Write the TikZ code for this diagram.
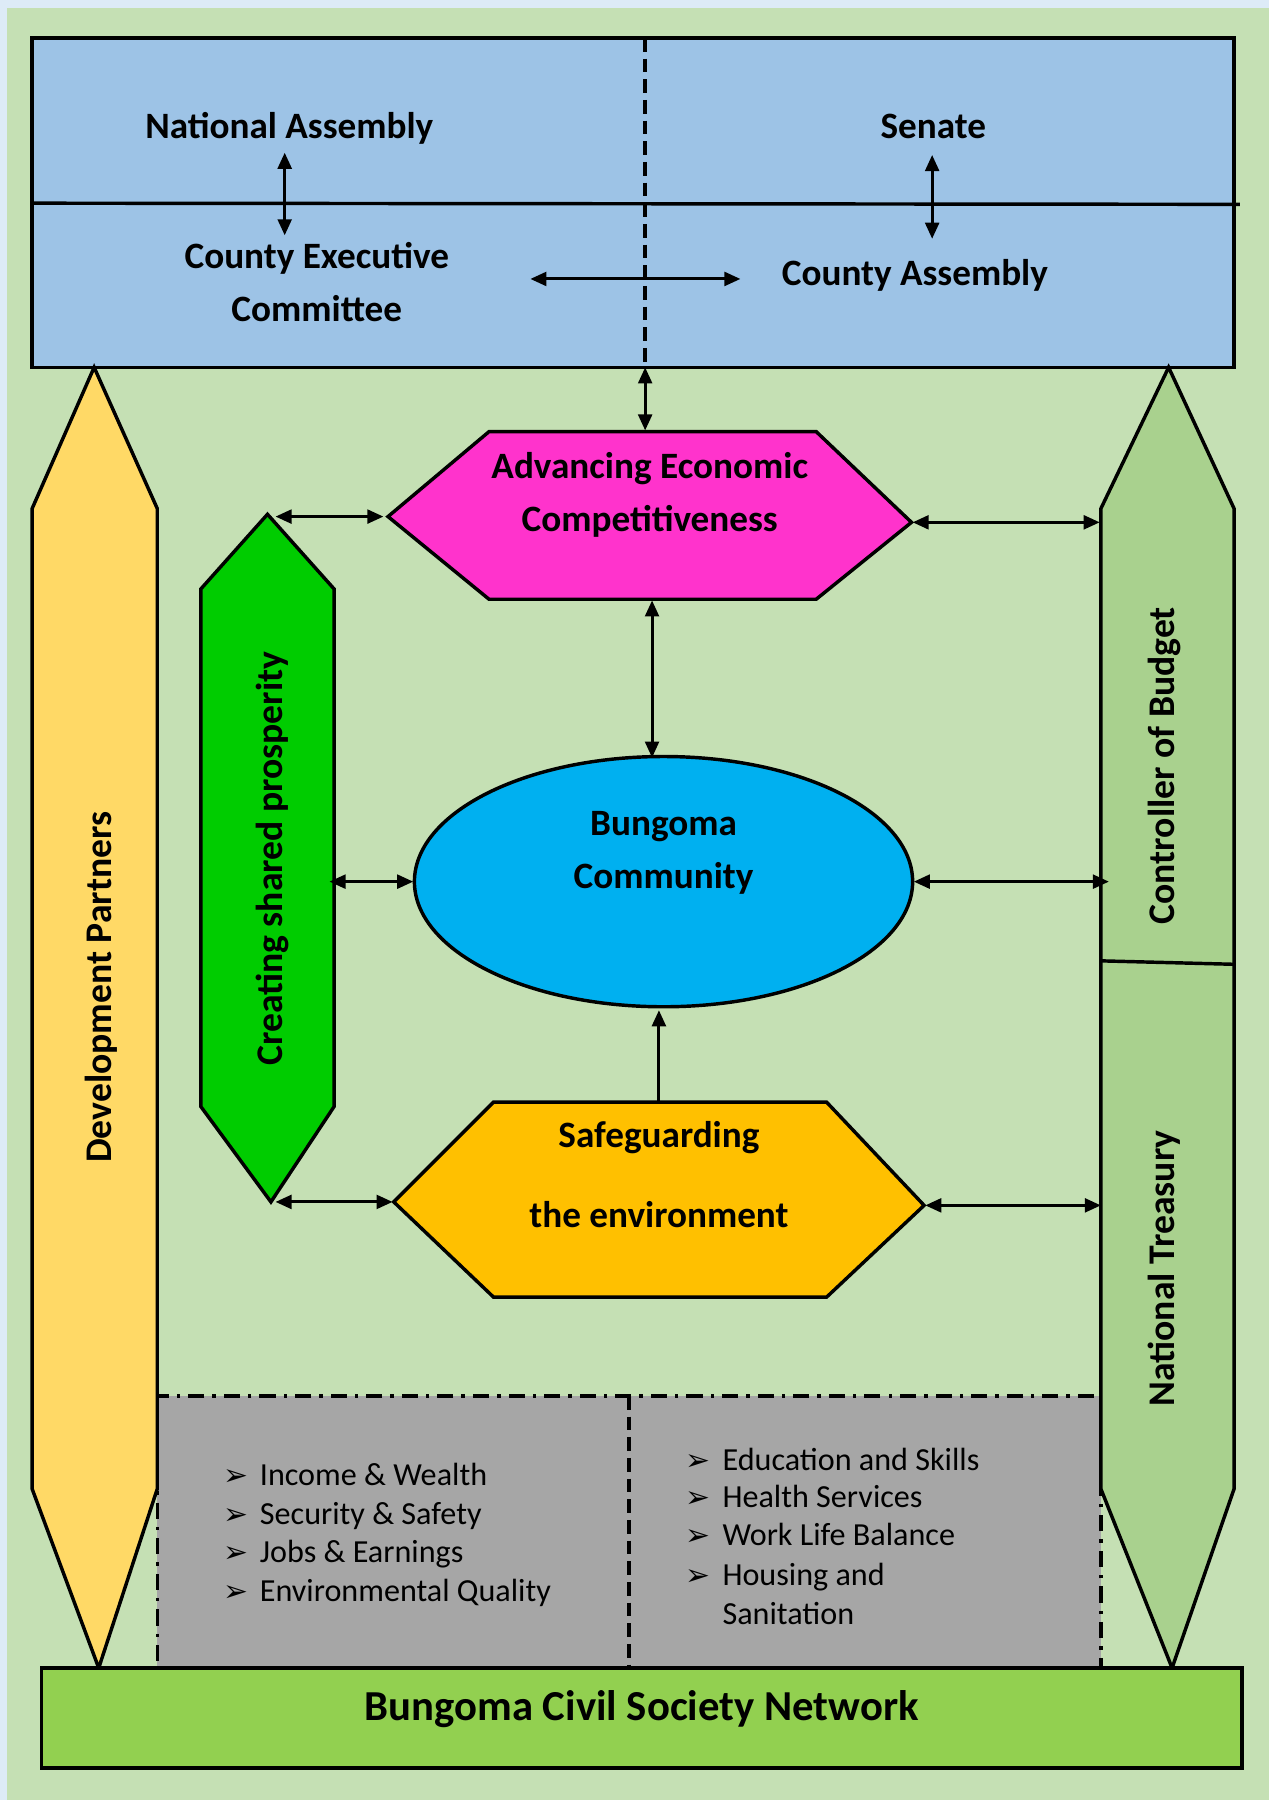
\documentclass[tikz,border=0pt]{standalone}
\usepackage{fontspec}
\setmainfont{Carlito}
\newfontfamily\dejavu{DejaVu Sans}
\usetikzlibrary{arrows.meta}
\definecolor{pageblue}{HTML}{DDEBF7}
\definecolor{bggreen}{HTML}{C5E0B4}
\definecolor{topblue}{HTML}{9DC3E6}
\definecolor{boxgray}{HTML}{A6A6A6}
\definecolor{devyellow}{HTML}{FFD966}
\definecolor{bargreen}{HTML}{A9D18E}
\definecolor{pencilgreen}{HTML}{00CC00}
\definecolor{hexmagenta}{HTML}{FF33CC}
\definecolor{ellcyan}{HTML}{00B0F0}
\definecolor{hexorange}{HTML}{FFC000}
\definecolor{civgreen}{HTML}{92D050}
\newcommand\bul{\makebox[16pt][l]{\dejavu\fontsize{13}{13}\selectfont ➢}}
\begin{document}
\begin{tikzpicture}[x=0.5pt,y=-0.5pt,
  shp/.style={draw=black,line width=1.5pt,line join=miter},
  conn/.style={line width=1.3pt,{Triangle[length=7pt,width=6pt]}-{Triangle[length=7pt,width=6pt]}},
  conntip/.style={line width=1.3pt,-{Triangle[length=7pt,width=6pt]}},
  lbl/.style={font=\fontsize{16.2}{23}\selectfont\bfseries, anchor=base, inner sep=0pt},
  vlbl/.style={font=\fontsize{16.4}{23}\selectfont\bfseries, anchor=base, inner sep=0pt, rotate=90},
  item/.style={font=\fontsize{14}{17}\selectfont, anchor=base west, inner sep=0pt},
]
\useasboundingbox (0,0) rectangle (1105,1568);
\fill[pageblue] (0,0) rectangle (1105,1568);
\fill[bggreen] (6,7) rectangle (1105,1568);

% top governance box
\filldraw[shp, fill=topblue] (28,33) rectangle (1075,320);
\draw[line width=1.5pt] (28,177) -- (1080,178);
\draw[line width=1.5pt, dash pattern=on 6pt off 3pt] (562,33) -- (562,320);

% gray well-being box
\filldraw[fill=boxgray, draw=black, line width=1.5pt, dash pattern=on 7pt off 3.5pt on 1.5pt off 3.5pt] (137,1216) rectangle (959,1453);
\draw[line width=1.5pt, dash pattern=on 6pt off 3pt] (548,1216) -- (548,1453);

% development partners bar
\filldraw[shp, fill=devyellow] (82,320) -- (137,443) -- (137,1297) -- (86,1453) -- (28,1297) -- (28,443) -- cycle;

% controller / treasury bar
\filldraw[shp, fill=bargreen] (1018,320) -- (1075,443) -- (1075,1297) -- (1021,1453) -- (959,1297) -- (959,443) -- cycle;
\draw[shp] (959,837) -- (1075,840);

% creating shared prosperity
\filldraw[shp, fill=pencilgreen] (233,448) -- (291,513) -- (291,964) -- (236,1047) -- (175,964) -- (175,513) -- cycle;

% advancing economic competitiveness
\filldraw[shp, fill=hexmagenta] (338,450) -- (426,376) -- (711,376) -- (794,455) -- (711,522) -- (426,522) -- cycle;

% community
\filldraw[shp, fill=ellcyan] (578,768) ellipse [x radius=217, y radius=109];

% safeguarding
\filldraw[shp, fill=hexorange] (343,1047) -- (430,960) -- (720,960) -- (805,1050) -- (720,1130) -- (430,1130) -- cycle;

% civil society bar
\filldraw[shp, fill=civgreen] (36,1453) rectangle (1082,1540);

% connector end points
\coordinate (naS) at (248,133);  \coordinate (cecN) at (248,205);
\coordinate (seS) at (812,135);  \coordinate (caN) at (812,208);
\coordinate (cecE) at (462,243); \coordinate (caW) at (645,243);
\coordinate (topS) at (562,320); \coordinate (aecN) at (562,375);
\coordinate (cspT) at (240,450); \coordinate (aecW) at (334,450);
\coordinate (aecE) at (795,455); \coordinate (cobA) at (958,455);
\coordinate (aecS) at (568,523); \coordinate (comN) at (568,660);
\coordinate (cspE) at (287,768); \coordinate (comW) at (360,768);
\coordinate (comE) at (796,768); \coordinate (cobB) at (966,768);
\coordinate (sgN) at (574,960);  \coordinate (comS) at (574,880);
\coordinate (cspB) at (240,1047); \coordinate (sgW) at (342,1047);
\coordinate (sgE) at (806,1050); \coordinate (ntA) at (959,1050);

\draw[conn] (naS) -- (cecN);
\draw[conn] (seS) -- (caN);
\draw[conn] (cecE) -- (caW);
\draw[conn] (topS) -- (aecN);
\draw[conn] (cspT) -- (aecW);
\draw[conn] (aecE) -- (cobA);
\draw[conn] (aecS) -- (comN);
\draw[conn] (cspE) -- (comW);
\draw[conn] (comE) -- (cobB);
\draw[conntip] (sgN) -- (comS);
\draw[conn] (cspB) -- (sgW);
\draw[conn] (sgE) -- (ntA);

% labels
\node[lbl] (na) at (252,121) {National Assembly};
\node[lbl] (se) at (813,121) {Senate};
\node[lbl] (cec1) at (276,234) {County Executive};
\node[lbl] (cec2) at (276,280) {Committee};
\node[lbl] (ca) at (797,249) {County Assembly};
\node[lbl] (aec1) at (566,417) {Advancing Economic};
\node[lbl] (aec2) at (566,463) {Competitiveness};
\node[lbl] (com1) at (578,728) {Bungoma};
\node[lbl] (com2) at (578,774) {Community};
\node[lbl] (sg1) at (574,1000) {Safeguarding};
\node[lbl] (sg2) at (574,1069) {the environment};
\node[lbl, font=\fontsize{18.6}{23}\selectfont\bfseries] (bcsn) at (559,1499) {Bungoma Civil Society Network};
\node[vlbl] (dp) at (97,860) {Development Partners};
\node[vlbl] (csp) at (246,748) {Creating shared prosperity};
\node[vlbl] (cob) at (1023,667) {Controller of Budget};
\node[vlbl] (nt) at (1023,1105) {National Treasury};

% lists
\node[item] (l1) at (194,1294) {\bul Income \& Wealth};
\node[item] (l2) at (194,1328) {\bul Security \& Safety};
\node[item] (l3) at (194,1361) {\bul Jobs \& Earnings};
\node[item] (l4) at (194,1395) {\bul Environmental Quality};
\node[item] (r1) at (597,1281) {\bul Education and Skills};
\node[item] (r2) at (597,1313) {\bul Health Services};
\node[item] (r3) at (597,1346) {\bul Work Life Balance};
\node[item] (r4) at (597,1381) {\bul Housing and};
\node[item] (r5) at (597,1415) {\hspace{16pt}Sanitation};
\end{tikzpicture}
\end{document}
